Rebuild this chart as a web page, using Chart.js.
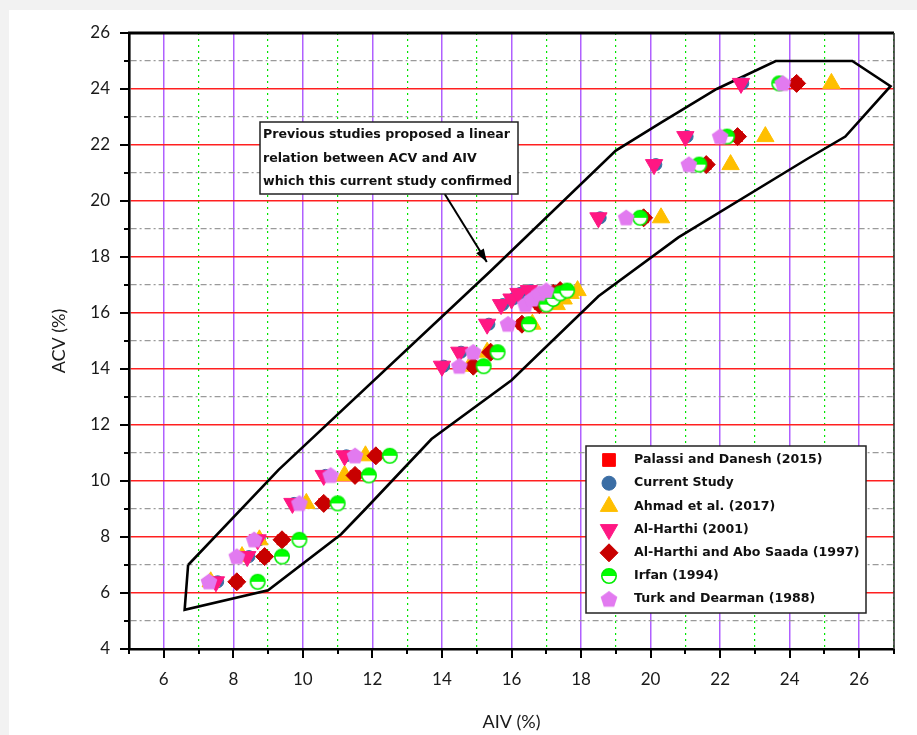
<!DOCTYPE html>
<html>
<head>
<meta charset="utf-8">
<script src="https://cdn.jsdelivr.net/npm/chart.js@4"></script>
<style>
  html, body { margin: 0; padding: 0; background: #f2f2f2; }
  #contenedor { position: absolute; left: 0; top: 0; width: 917px; height: 735px; }
</style>
</head>
<body>
<div id="contenedor"><canvas id="grafico" width="917" height="735"></canvas></div>
<script>
// Valores ACV (%) comunes a todas las series
const acv = [6.4, 7.3, 7.9, 9.2, 10.2, 10.9, 14.1, 14.6, 15.6, 16.3, 16.5, 16.7, 16.8, 19.4, 21.3, 22.3, 24.2];

// Valores AIV (%) de cada estudio
const aivPalassi = [8.1, 8.9, 9.4, 10.6, 11.5, 12.1, 14.9, 15.4, 16.3, 16.8, 17.0, 17.2, 17.4, 19.8, 21.6, 22.5, 24.2];
const aivActual  = [7.55, 8.45, 8.75, 9.75, 10.65, 11.25, 14.05, 14.55, 15.35, 15.75, 16.05, 16.25, 16.55, 18.55, 20.15, 21.05, 22.65];
const aivAhmad   = [7.35, 8.25, 8.75, 10.1, 11.2, 11.8, 14.8, 15.3, 16.6, 17.3, 17.5, 17.7, 17.9, 20.3, 22.3, 23.3, 25.2];
const aivHarthi  = [7.5, 8.4, 8.7, 9.7, 10.6, 11.2, 14.0, 14.5, 15.3, 15.7, 16.0, 16.2, 16.5, 18.5, 20.1, 21.0, 22.6];
const aivAboSaada = [8.1, 8.9, 9.4, 10.6, 11.5, 12.1, 14.9, 15.4, 16.3, 16.8, 17.0, 17.2, 17.4, 19.8, 21.6, 22.5, 24.2];
const aivIrfan   = [8.7, 9.4, 9.9, 11.0, 11.9, 12.5, 15.2, 15.6, 16.5, 17.0, 17.2, 17.4, 17.6, 19.7, 21.4, 22.2, 23.7];
const aivTurk    = [7.3, 8.1, 8.6, 9.9, 10.8, 11.5, 14.5, 14.9, 15.9, 16.4, 16.6, 16.8, 17.0, 19.3, 21.1, 22.0, 23.8];

// Envolvente dibujada alrededor de los datos
const envAiv = [6.7, 9.3, 15.4, 19.0, 20.3, 21.9, 23.6, 25.8, 26.9, 25.6, 24.5, 20.8, 18.5, 16.0, 13.7, 11.8, 11.1, 9.0, 6.6, 6.7];
const envAcv = [7.0, 10.4, 17.5, 21.8, 22.8, 24.0, 25.0, 25.0, 24.1, 22.3, 21.5, 18.7, 16.6, 13.6, 11.5, 9.0, 8.1, 6.1, 5.4, 7.0];

// Flecha de la nota
const flechaAiv = [14.08, 15.29];
const flechaAcv = [20.25, 17.82];

const notaLineas = ['Previous studies proposed a linear', 'relation between ACV and AIV', 'which this current study confirmed'];

const nombres = ['Palassi and Danesh (2015)', 'Current Study', 'Ahmad et al. (2017)', 'Al-Harthi (2001)',
  'Al-Harthi and Abo Saada (1997)', 'Irfan (1994)', 'Turk and Dearman (1988)'];

// Eje
const xMin = 5, xMax = 27, yMin = 4, yMax = 26;

function puntos(xs, ys) {
  return xs.map((x, i) => ({ x: x, y: ys[i] }));
}

// Marcador semicírculo (Irfan)
function marcadorIrfan() {
  const c = document.createElement('canvas');
  c.width = 18; c.height = 18;
  const g = c.getContext('2d');
  g.beginPath(); g.arc(9, 9, 7.2, 0, 2 * Math.PI); g.fillStyle = '#ffffff'; g.fill();
  g.beginPath(); g.arc(9, 9, 7.2, Math.PI, 2 * Math.PI); g.closePath(); g.fillStyle = '#00ff00'; g.fill();
  g.beginPath(); g.arc(9, 9, 7.2, 0, 2 * Math.PI); g.lineWidth = 1.6; g.strokeStyle = '#00ee00'; g.stroke();
  return c;
}

// Marcador pentágono (Turk and Dearman)
function marcadorPentagono() {
  const c = document.createElement('canvas');
  c.width = 20; c.height = 20;
  const g = c.getContext('2d');
  g.beginPath();
  for (let i = 0; i < 5; i++) {
    const a = -Math.PI / 2 + i * 2 * Math.PI / 5;
    const px = 10 + 8.8 * Math.cos(a), py = 10.5 + 8.8 * Math.sin(a);
    if (i === 0) g.moveTo(px, py); else g.lineTo(px, py);
  }
  g.closePath();
  g.fillStyle = '#e27af0';
  g.fill();
  return c;
}

const estiloIrfan = marcadorIrfan();
const estiloTurk = marcadorPentagono();

// Series en orden de leyenda
const series = [
  { label: nombres[0], data: puntos(aivPalassi, acv), pointStyle: 'rect', pointRadius: 7, legendRadius: 9, color: '#ff0000' },
  { label: nombres[1], data: puntos(aivActual, acv), pointStyle: 'circle', pointRadius: 6, legendRadius: 7, color: '#3b6ea5' },
  { label: nombres[2], data: puntos(aivAhmad, acv), pointStyle: 'triangle', pointRadius: 10, color: '#ffbf00' },
  { label: nombres[3], data: puntos(aivHarthi, acv), pointStyle: 'triangle', pointRadius: 10, rotation: 180, color: '#ff1783' },
  { label: nombres[4], data: puntos(aivAboSaada, acv), pointStyle: 'rectRot', pointRadius: 9, color: '#c80000' },
  { label: nombres[5], data: puntos(aivIrfan, acv), pointStyle: estiloIrfan, pointRadius: 8, color: '#00ff00' },
  { label: nombres[6], data: puntos(aivTurk, acv), pointStyle: estiloTurk, pointRadius: 9, color: '#e27af0' }
];

// Chart.js dibuja el primer dataset encima, así que se invierte
const datasetsSeries = series.slice().reverse().map(s => ({
  label: s.label,
  data: s.data,
  pointStyle: s.pointStyle,
  pointRadius: s.pointRadius,
  pointRotation: s.rotation || 0,
  backgroundColor: s.color,
  borderColor: s.color,
  borderWidth: 1,
  showLine: false
}));

const datasetEnvolvente = {
  label: 'envolvente',
  data: puntos(envAiv, envAcv),
  showLine: true,
  borderColor: '#000000',
  borderWidth: 2.6,
  pointRadius: 0,
  fill: false,
  tension: 0
};

const datasetFlecha = {
  label: 'flecha',
  data: puntos(flechaAiv, flechaAcv),
  showLine: true,
  borderColor: '#000000',
  borderWidth: 2,
  pointRadius: 0,
  fill: false
};

const fuenteTexto = 'bold 12.6px "DejaVu Sans"';

// Fondo gris con panel blanco
const fondo = {
  id: 'fondo',
  beforeDraw(chart) {
    const c = chart.ctx;
    c.save();
    c.fillStyle = '#f2f2f2';
    c.fillRect(0, 0, chart.width, chart.height);
    c.fillStyle = '#ffffff';
    c.fillRect(9, 10, chart.width - 9, chart.height - 10);
    c.restore();
  }
};

// Marcas de los ejes (mayores y menores) y marco superior/derecho
const marcas = {
  id: 'marcas',
  afterDraw(chart) {
    const c = chart.ctx;
    const { left, right, top, bottom } = chart.chartArea;
    const sx = chart.scales.x, sy = chart.scales.y;
    c.save();
    c.strokeStyle = '#000';
    c.lineWidth = 2;
    sx.ticks.forEach(t => {
      const px = Math.round(sx.getPixelForValue(t.value));
      const l = t.value % 2 === 0 ? 9 : 5;
      c.beginPath(); c.moveTo(px, bottom); c.lineTo(px, bottom + l); c.stroke();
    });
    sy.ticks.forEach(t => {
      const py = Math.round(sy.getPixelForValue(t.value));
      const l = t.value % 2 === 0 ? 9 : 5;
      c.beginPath(); c.moveTo(left, py); c.lineTo(left - l, py); c.stroke();
    });
    // marco
    c.lineWidth = 3;
    c.beginPath(); c.moveTo(left - 1, top); c.lineTo(right, top); c.stroke();
    c.lineWidth = 1.6;
    c.strokeStyle = '#333';
    c.beginPath(); c.moveTo(right, top); c.lineTo(right, bottom); c.stroke();
    c.restore();
  }
};

// Punta de flecha y nota
const nota = {
  id: 'nota',
  afterDatasetsDraw(chart) {
    const c = chart.ctx;
    const idx = chart.data.datasets.findIndex(d => d.label === 'flecha');
    const pts = chart.getDatasetMeta(idx).data;
    const p0 = pts[0], p1 = pts[1];
    const ang = Math.atan2(p1.y - p0.y, p1.x - p0.x);
    c.save();
    c.fillStyle = '#000';
    c.beginPath();
    c.moveTo(p1.x, p1.y);
    c.lineTo(p1.x - 13 * Math.cos(ang) + 4.5 * Math.sin(ang), p1.y - 13 * Math.sin(ang) - 4.5 * Math.cos(ang));
    c.lineTo(p1.x - 13 * Math.cos(ang) - 4.5 * Math.sin(ang), p1.y - 13 * Math.sin(ang) + 4.5 * Math.cos(ang));
    c.closePath();
    c.fill();

    // recuadro de texto
    const { left, top } = chart.chartArea;
    const bx = left + 131, by = top + 89, bw = 258, bh = 72;
    c.fillStyle = '#ffffff';
    c.fillRect(bx, by, bw, bh);
    c.strokeStyle = '#222';
    c.lineWidth = 1.5;
    c.strokeRect(bx, by, bw, bh);
    c.fillStyle = '#111';
    c.font = fuenteTexto;
    c.textBaseline = 'middle';
    c.textAlign = 'left';
    notaLineas.forEach((t, i) => c.fillText(t, bx + 3, by + 13 + i * 23.5));
    c.restore();
  }
};

// Leyenda dentro del área
const leyenda = {
  id: 'leyenda',
  afterDraw(chart) {
    const c = chart.ctx;
    const { right, bottom } = chart.chartArea;
    const w = 280, h = 167;
    const bx = right - 28 - w, by = bottom - 36 - h;
    c.save();
    c.fillStyle = '#ffffff';
    c.fillRect(bx, by, w, h);
    c.strokeStyle = '#222';
    c.lineWidth = 1.5;
    c.strokeRect(bx, by, w, h);
    series.forEach((s, i) => {
      const cy = by + 14 + i * 23.2;
      c.fillStyle = s.color;
      c.strokeStyle = s.color;
      c.lineWidth = 1;
      Chart.helpers.drawPoint(c, {
        pointStyle: s.pointStyle,
        radius: s.legendRadius || s.pointRadius,
        rotation: s.rotation || 0,
        borderWidth: 1
      }, bx + 23, cy);
      c.fillStyle = '#111';
      c.font = fuenteTexto;
      c.textBaseline = 'middle';
      c.fillText(s.label, bx + 48, cy);
    });
    c.restore();
  }
};

const fuenteEjes = { family: 'Lato', size: 17 };

new Chart(document.getElementById('grafico'), {
  type: 'scatter',
  data: {
    datasets: datasetsSeries.concat([datasetFlecha, datasetEnvolvente])
  },
  options: {
    responsive: false,
    animation: false,
    events: [],
    layout: { padding: { top: 33, right: 23, left: 0, bottom: 0 } },
    plugins: {
      legend: { display: false },
      tooltip: { enabled: false }
    },
    scales: {
      x: {
        type: 'linear',
        min: xMin,
        max: xMax,
        afterFit: s => { s.height = 86; },
        ticks: {
          stepSize: 1,
          autoSkip: false,
          maxRotation: 0,
          padding: 20,
          color: '#1a1a1a',
          font: fuenteEjes,
          callback: v => (v % 2 === 0 ? v : '')
        },
        grid: {
          drawTicks: false,
          color: c => (c.tick && c.tick.value % 2 === 0 ? '#b060ff' : '#00e600'),
          lineWidth: c => (c.tick && c.tick.value % 2 === 0 ? 1.5 : 1.2)
        },
        border: {
          color: '#000',
          width: 2.6,
          dash: c => (c.tick && c.tick.value % 2 !== 0 ? [2, 4] : [])
        },
        title: {
          display: true,
          text: 'AIV (%)',
          color: '#1a1a1a',
          font: { family: 'Lato', size: 18 },
          padding: { top: 0, bottom: 2 }
        }
      },
      y: {
        type: 'linear',
        min: yMin,
        max: yMax,
        afterFit: s => { s.width = 129; },
        ticks: {
          stepSize: 1,
          autoSkip: false,
          padding: 19,
          color: '#1a1a1a',
          font: fuenteEjes,
          callback: v => (v % 2 === 0 ? v : '')
        },
        grid: {
          drawTicks: false,
          color: c => (c.tick && c.tick.value % 2 === 0 ? '#ff2020' : '#9a9a9a'),
          lineWidth: c => (c.tick && c.tick.value % 2 === 0 ? 1.6 : 1.3)
        },
        border: {
          color: '#000',
          width: 2.6,
          dash: c => (c.tick && c.tick.value % 2 !== 0 ? [6, 3, 2, 3] : [])
        },
        title: {
          display: true,
          text: 'ACV (%)',
          color: '#1a1a1a',
          font: { family: 'Lato', size: 18 },
          padding: { top: 48, bottom: 0 }
        }
      }
    }
  },
  plugins: [fondo, marcas, nota, leyenda]
});
</script>
</body>
</html>
